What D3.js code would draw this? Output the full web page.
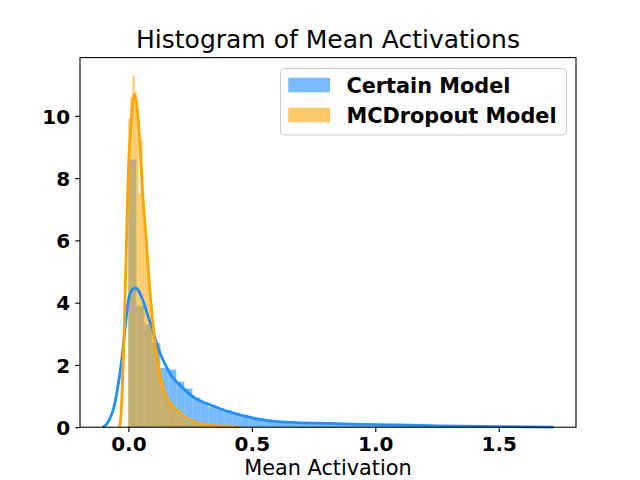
<!DOCTYPE html>
<html>
<head>
<meta charset="utf-8">
<script src="https://cdn.jsdelivr.net/npm/d3@7"></script>
<style>
  body { margin: 0; background: #fff; }
  svg { font-family: "DejaVu Sans", sans-serif; }
</style>
</head>
<body>
<svg id="chart" width="640" height="480"></svg>
<script>
// histogram bins: 50 bins over each data range
var certainRange = [0, 1.617];
var certainHist = [8.6, 3.9, 3.3, 2.7, 1.9, 1.85, 1.46, 1.24, 0.95, 0.8,
                   0.65, 0.6, 0.55, 0.46, 0.4, 0.33, 0.28, 0.24, 0.2, 0.18,
                   0.16, 0.15, 0.14, 0.13, 0.12, 0.11, 0.09, 0.08, 0.07, 0.06,
                   0.06, 0.05, 0.05, 0.04, 0.04, 0.03, 0.03, 0.03, 0.03, 0.02,
                   0.02, 0.02, 0.02, 0.01, 0.01, 0.01, 0.01, 0.01, 0.01, 0.01];

var mcRange = [0, 0.41];
var mcHist = [9.9, 10.6, 11.3, 10.8, 10.3, 7.5, 9.2, 7.2, 6.1, 5.3,
              4.6, 3.9, 3.3, 2.8, 2.4, 1.9, 1.6, 1.35, 1.1, 0.95,
              0.8, 0.68, 0.58, 0.5, 0.42, 0.35, 0.3, 0.25, 0.2, 0.17,
              0.14, 0.12, 0.1, 0.08, 0.07, 0.06, 0.05, 0.05, 0.04, 0.04,
              0.03, 0.03, 0.03, 0.02, 0.02, 0.02, 0.02, 0.01, 0.01, 0.01];

// kde curves
var certainKdeX = [-0.105, -0.09, -0.074, -0.06, -0.047, -0.027, -0.013, 0.0, 0.01, 0.02,
                   0.03, 0.04, 0.055, 0.068, 0.08, 0.095, 0.11, 0.128, 0.15, 0.169,
                   0.19, 0.209, 0.235, 0.263, 0.29, 0.317, 0.35, 0.398, 0.44, 0.48,
                   0.533, 0.59, 0.68, 0.82, 0.95, 1.09, 1.22, 1.35, 1.5, 1.62, 1.722];
var certainKdeY = [0, 0.08, 0.3, 0.6, 1.1, 2.15, 3.2, 4.07, 4.35, 4.45,
                   4.47, 4.4, 4.15, 3.87, 3.55, 3.22, 2.8, 2.38, 2.0, 1.72,
                   1.5, 1.35, 1.15, 0.97, 0.85, 0.76, 0.66, 0.52, 0.42, 0.34,
                   0.25, 0.19, 0.15, 0.12, 0.09, 0.07, 0.05, 0.035, 0.02, 0.01, 0.003];

var mcKdeX = [-0.036, -0.03, -0.023, -0.018, -0.013, -0.008, -0.003, 0.003, 0.01, 0.017,
              0.023, 0.03, 0.037, 0.044, 0.05, 0.058, 0.068, 0.078, 0.088, 0.098,
              0.108, 0.118, 0.128, 0.14, 0.155, 0.175, 0.196, 0.22, 0.25, 0.28,
              0.317, 0.36, 0.41, 0.446];
var mcKdeY = [0, 0.4, 1.62, 2.8, 4.3, 5.9, 7.5, 8.8, 9.65, 10.4,
              10.68, 10.55, 10.1, 9.4, 8.6, 7.5, 6.44, 5.35, 4.3, 3.45,
              2.69, 2.1, 1.62, 1.25, 0.97, 0.72, 0.55, 0.38, 0.23, 0.13,
              0.07, 0.045, 0.03, 0];

var seriesNames = ["Certain Model", "MCDropout Model"];
var xTicks = [0.0, 0.5, 1.0, 1.5];
var yTicks = [0, 2, 4, 6, 8, 10];

(function() {
  var svg = d3.select("#chart");
  var plotL = 80, plotR = 576, plotT = 57.6, plotB = 427.2;

  var x = d3.scaleLinear().domain([-0.196, 1.813]).range([plotL, plotR]);
  var y = d3.scaleLinear().domain([0, 11.87]).range([plotB, plotT]);

  var series = [
    { hist: certainHist, range: certainRange, kx: certainKdeX, ky: certainKdeY,
      line: "#1e90ff", fill: "rgba(30,144,255,0.6)" },
    { hist: mcHist, range: mcRange, kx: mcKdeX, ky: mcKdeY,
      line: "#ffa500", fill: "rgba(255,165,0,0.6)" }
  ];

  // bars first (patches sit below lines)
  series.forEach(function(s) {
    var w = (s.range[1] - s.range[0]) / s.hist.length;
    svg.append("g").selectAll("rect")
       .data(s.hist)
       .enter().append("rect")
       .attr("x", function(d, i) { return x(s.range[0] + i * w); })
       .attr("width", function(d, i) { return x(s.range[0] + (i + 1) * w) - x(s.range[0] + i * w); })
       .attr("y", function(d) { return y(d); })
       .attr("height", function(d) { return y(0) - y(d); })
       .attr("fill", s.fill);
  });

  var line = d3.line()
    .x(function(d) { return x(d[0]); })
    .y(function(d) { return y(d[1]); })
    .curve(d3.curveMonotoneX);

  series.forEach(function(s) {
    svg.append("path")
       .datum(d3.zip(s.kx, s.ky))
       .attr("d", line)
       .attr("fill", "none")
       .attr("stroke", s.line)
       .attr("stroke-width", 2.8)
       .attr("stroke-linejoin", "round");
  });

  // axes
  var xAxis = svg.append("g")
    .attr("transform", "translate(0," + plotB + ")")
    .call(d3.axisBottom(x).tickValues(xTicks).tickFormat(d3.format(".1f"))
          .tickSize(4.9).tickPadding(5));
  var yAxis = svg.append("g")
    .attr("transform", "translate(" + plotL + ",0)")
    .call(d3.axisLeft(y).tickValues(yTicks).tickFormat(d3.format("d"))
          .tickSize(4.9).tickPadding(5));

  [xAxis, yAxis].forEach(function(a) {
    a.select(".domain").remove();
    a.selectAll(".tick line").attr("stroke", "#000").attr("stroke-width", 1.1);
    a.selectAll(".tick text")
     .attr("fill", "#000")
     .style("font-family", "DejaVu Sans")
     .style("font-size", "20px")
     .style("font-weight", "bold");
  });
  xAxis.selectAll(".tick text").attr("dy", "0.72em");
  yAxis.selectAll(".tick text").attr("dy", "0.36em");

  // spines
  svg.append("rect")
     .attr("x", plotL).attr("y", plotT)
     .attr("width", plotR - plotL).attr("height", plotB - plotT)
     .attr("fill", "none").attr("stroke", "#000").attr("stroke-width", 1.1);

  // title and label
  svg.append("text")
     .attr("x", (plotL + plotR) / 2).attr("y", 48)
     .attr("text-anchor", "middle")
     .style("font-size", "25px")
     .text("Histogram of Mean Activations");

  svg.append("text")
     .attr("x", (plotL + plotR) / 2).attr("y", 475)
     .attr("text-anchor", "middle")
     .style("font-size", "20.8px")
     .text("Mean Activation");

  // legend
  var legend = svg.append("g");
  legend.append("rect")
    .attr("x", 280.5).attr("y", 68.5)
    .attr("width", 286).attr("height", 66.5)
    .attr("rx", 4)
    .attr("fill", "rgba(255,255,255,0.8)")
    .attr("stroke", "#cccccc").attr("stroke-width", 1);

  var rows = legend.selectAll("g.row")
    .data(seriesNames)
    .enter().append("g")
    .attr("class", "row")
    .attr("transform", function(d, i) { return "translate(0," + (85 + i * 30) + ")"; });

  rows.append("rect")
    .attr("x", 288.3).attr("y", -7.3)
    .attr("width", 41.7).attr("height", 14.6)
    .attr("fill", function(d, i) { return series[i].fill; });

  rows.append("text")
    .attr("x", 346.5).attr("dy", "0.36em")
    .style("font-size", "20.8px")
    .style("font-weight", "bold")
    .text(function(d) { return d; });
})();
</script>
</body>
</html>
